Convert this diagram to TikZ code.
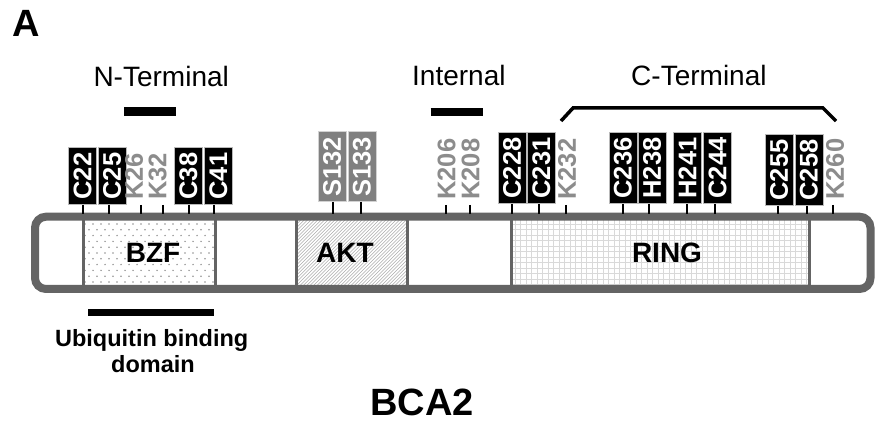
\documentclass[tikz,border=0pt]{standalone}
\usepackage{fontspec}
\setmainfont{Liberation Sans}
\definecolor{barg}{RGB}{100,100,100}
\definecolor{kg}{RGB}{140,140,140}
\definecolor{sg}{RGB}{128,128,128}
\tikzset{
  res/.style={rotate=90, anchor=west, font=\bfseries\fontsize{25.5}{25.5}\selectfont,
    inner xsep=5.2pt, inner ysep=0pt, minimum height=28pt},
  cres/.style={res, fill=black, draw=gray!55, line width=0.6pt, text=white},
  sres/.style={res, fill=sg, draw=gray!35, line width=0.6pt, text=white},
  kres/.style={res, text=kg},
  tickline/.style={line width=2.3pt, black},
  divider/.style={line width=3pt, draw=barg},
  barbox/.style={rectangle, draw=barg, line width=8pt, rounded corners=11pt,
    minimum width=835.5pt, minimum height=72.3pt, inner sep=0pt},
  domlab/.style={font=\bfseries\fontsize{28}{28}\selectfont, inner sep=0pt},
  toplab/.style={font=\fontsize{28}{28}\selectfont, anchor=base, inner sep=0pt},
  boldlab/.style={font=\bfseries\fontsize{23.5}{23.5}\selectfont, anchor=base, inner sep=0pt},
}
\begin{document}
\begin{tikzpicture}[x=1pt,y=-1pt]
\useasboundingbox (0,0) rectangle (876,422);
\fill[white] (0,0) rectangle (876,422);

% ---- domain fills ----
\begin{scope}
  \clip (83,220.7) rectangle (215,285.3);
  \foreach \r in {0,...,11}
    \foreach \c in {0,...,17}
      \fill[gray!85] ({85+\c*8+mod(\r,2)*4},{224+\r*5.8}) circle (0.85pt);
\end{scope}
\begin{scope}
  \clip (296,220.7) rectangle (407,285.3);
  \foreach \i in {-22,...,34}
    \draw[gray!65, line width=0.55pt] ({296+\i*3.4},286) -- ++(70,-70);
\end{scope}
\begin{scope}
  \clip (511.7,220.7) rectangle (809,285.3);
  \foreach \x in {515,520.5,...,809}
    \draw[gray!30, line width=0.5pt] (\x,220) -- (\x,286);
  \foreach \y in {224,229.5,...,286}
    \draw[gray!30, line width=0.5pt] (511,\y) -- (810,\y);
\end{scope}

% ---- dividers ----
\foreach \x in {83,215,296,407,511.7,809}
  \draw[divider] (\x,216.7) -- (\x,289);

% ---- bar outline ----
\node[barbox] (bar) at (452.75,252.85) {};

% ---- domain names ----
\node[domlab] (bzf) at (153,252.8) {BZF};
\node[domlab] (akt) at (345,252.8) {AKT};
\node[domlab] (ring) at (667,252.8) {RING};

% ---- residue labels ----
\node[cres] (c22) at (82.5,205) {C22};
\node[cres] (c25) at (112,205) {C25};
\node[kres] (k26) at (134,205) {K26};
\node[kres] (k32) at (157.5,205) {K32};
\node[cres] (c38) at (188.4,205) {C38};
\node[cres] (c41) at (218.3,205) {C41};
\node[sres] (s132) at (332,202) {S132};
\node[sres] (s133) at (361.8,202) {S133};
\node[kres] (k206) at (446.5,205) {K206};
\node[kres] (k208) at (470.7,205) {K208};
\node[cres] (c228) at (512,204) {C228};
\node[cres] (c231) at (541.3,204) {C231};
\node[kres] (k232) at (567,205) {K232};
\node[cres] (c236) at (622.8,204) {C236};
\node[cres] (h238) at (652.2,204) {H238};
\node[cres] (h241) at (687.5,204) {H241};
\node[cres] (c244) at (717.7,204) {C244};
\node[cres] (c255) at (779,206) {C255};
\node[cres] (c258) at (808.8,206) {C258};
\node[kres] (k260) at (835,205) {K260};

% ---- ticks ----
\foreach \n/\x in {c22/82.7, c25/109, k26/140.7, k32/163, c38/189, c41/214,
                   s132/332.7, s133/360.7, k206/446, k208/470,
                   c228/511.7, c231/539, k232/565.7, c236/622.7, h238/649,
                   h241/686.7, c244/715, c255/778, c258/806.7, k260/832.7}{
  \coordinate (t\n) at (\x,214);
  \draw[tickline] (\n.west -| t\n) -- (t\n);
}

% ---- top labels ----
\node[anchor=base west, inner sep=0pt, font=\bfseries\fontsize{38}{38}\selectfont] (A) at (12.5,37) {A};
\node[toplab] (nterm) at (161.2,87) {N-Terminal};
\node[toplab] (internal) at (458.9,85.5) {Internal};
\node[toplab] (cterm) at (698.9,85.5) {C-Terminal};
\draw[line width=8.7pt, black] (124,111.3) -- (175.7,111.3);
\draw[line width=8pt, black] (430.7,112) -- (482.7,112);
\draw[line width=3.5pt, black] (561,121) -- (573,108) -- (823,108) -- (836,121);

% ---- bottom labels ----
\draw[line width=7pt, black] (88.3,312.7) -- (214.3,312.7);
\node[boldlab] (ubq) at (151.7,346) {Ubiquitin binding};
\node[boldlab] (dom) at (153,372.7) {domain};
\node[anchor=base, inner sep=0pt, font=\bfseries\fontsize{38}{38}\selectfont] (bca2) at (422,415) {BCA2};
\end{tikzpicture}
\end{document}
